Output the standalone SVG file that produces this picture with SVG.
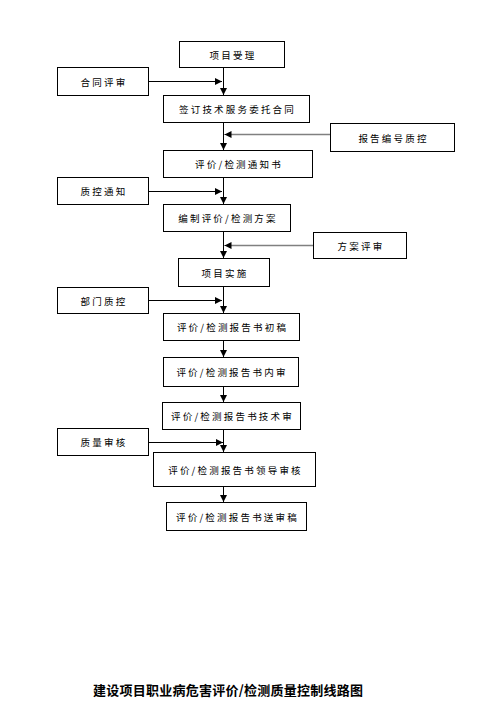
<svg xmlns="http://www.w3.org/2000/svg" width="491" height="717" viewBox="0 0 491 717">
<style>
.b{fill:#fff;stroke:#000;stroke-width:1}
.t{font-family:"Noto Sans CJK SC","Liberation Sans",sans-serif;font-size:9.5px;letter-spacing:2.2px;fill:#000;text-anchor:middle;dominant-baseline:central}
.c{fill:none;stroke:#000;stroke-width:1}
.g{fill:none;stroke:#808080;stroke-width:1.4}
.ttl{font-family:"Noto Sans CJK SC","Liberation Sans",sans-serif;font-size:13px;font-weight:bold;fill:#000}
</style>
<defs>
<marker id="ah" viewBox="0 0 10 10" refX="10" refY="5" markerWidth="7" markerHeight="7" markerUnits="userSpaceOnUse" orient="auto"><path d="M0,0 L10,5 L0,10 z" fill="#000"/></marker>
</defs>
<rect width="491" height="717" fill="#fff"/>
<g id="connectors">
<path class="c" d="M223.5,67 V95" marker-end="url(#ah)"/>
<path class="c" d="M223.5,122 V150" marker-end="url(#ah)"/>
<path class="c" d="M223.5,177 V204" marker-end="url(#ah)"/>
<path class="c" d="M223.5,231 V258" marker-end="url(#ah)"/>
<path class="c" d="M223.5,286 V313" marker-end="url(#ah)"/>
<path class="c" d="M223.5,340 V357" marker-end="url(#ah)"/>
<path class="c" d="M223.5,387 V402" marker-end="url(#ah)"/>
<path class="c" d="M223.5,429 V452" marker-end="url(#ah)"/>
<path class="c" d="M223.5,486 V502" marker-end="url(#ah)"/>
<path class="c" d="M149,81.5 H222" marker-end="url(#ah)"/>
<path class="c" d="M148,191.5 H222" marker-end="url(#ah)"/>
<path class="c" d="M148,300.5 H222" marker-end="url(#ah)"/>
<path class="c" d="M148,442.5 H223" marker-end="url(#ah)"/>
<path class="g" d="M330,134.5 H231"/>
<path class="c" d="M231,134.5 H224.5" marker-end="url(#ah)"/>
<path class="g" d="M313,245.5 H231"/>
<path class="c" d="M231,245.5 H224.5" marker-end="url(#ah)"/>
</g>
<g id="n1"><rect class="b" x="179.5" y="41.5" width="105" height="26"/><text class="t" x="233" y="54.5">项目受理</text></g>
<g id="n2"><rect class="b" x="57.5" y="67.5" width="91" height="28"/><text class="t" x="104" y="81.5">合同评审</text></g>
<g id="n3"><rect class="b" x="163.5" y="95.5" width="146" height="27"/><text class="t" x="237.5" y="109">签订技术服务委托合同</text></g>
<g id="n4"><rect class="b" x="330.5" y="123.5" width="124" height="28"/><text class="t" x="393.5" y="137.5">报告编号质控</text></g>
<g id="n5"><rect class="b" x="163.5" y="150.5" width="149" height="27"/><text class="t" x="239" y="164">评价/检测通知书</text></g>
<g id="n6"><rect class="b" x="57.5" y="177.5" width="91" height="27"/><text class="t" x="104" y="191">质控通知</text></g>
<g id="n7"><rect class="b" x="163.5" y="204.5" width="127" height="27"/><text class="t" x="228" y="218">编制评价/检测方案</text></g>
<g id="n8"><rect class="b" x="313.5" y="232.5" width="93" height="26"/><text class="t" x="361" y="245.5">方案评审</text></g>
<g id="n9"><rect class="b" x="178.5" y="258.5" width="91" height="28"/><text class="t" x="225" y="272.5">项目实施</text></g>
<g id="n10"><rect class="b" x="57.5" y="287.5" width="91" height="26"/><text class="t" x="104" y="300.5">部门质控</text></g>
<g id="n11"><rect class="b" x="163.5" y="313.5" width="136" height="27"/><text class="t" x="232.5" y="327">评价/检测报告书初稿</text></g>
<g id="n12"><rect class="b" x="163.5" y="357.5" width="135" height="29"/><text class="t" x="232" y="372">评价/检测报告书内审</text></g>
<g id="n13"><rect class="b" x="162.5" y="402.5" width="138" height="27"/><text class="t" x="232.5" y="416">评价/检测报告书技术审</text></g>
<g id="n14"><rect class="b" x="57.5" y="428.5" width="91" height="27"/><text class="t" x="104" y="442">质量审核</text></g>
<g id="n15"><rect class="b" x="153.5" y="452.5" width="162" height="34"/><text class="t" x="235.5" y="469.5">评价/检测报告书领导审核</text></g>
<g id="n16"><rect class="b" x="166.5" y="502.5" width="140" height="28"/><text class="t" x="237.5" y="516.5">评价/检测报告书送审稿</text></g>
<text class="ttl" x="93" y="695" textLength="270" lengthAdjust="spacing">建设项目职业病危害评价/检测质量控制线路图</text>
</svg>
